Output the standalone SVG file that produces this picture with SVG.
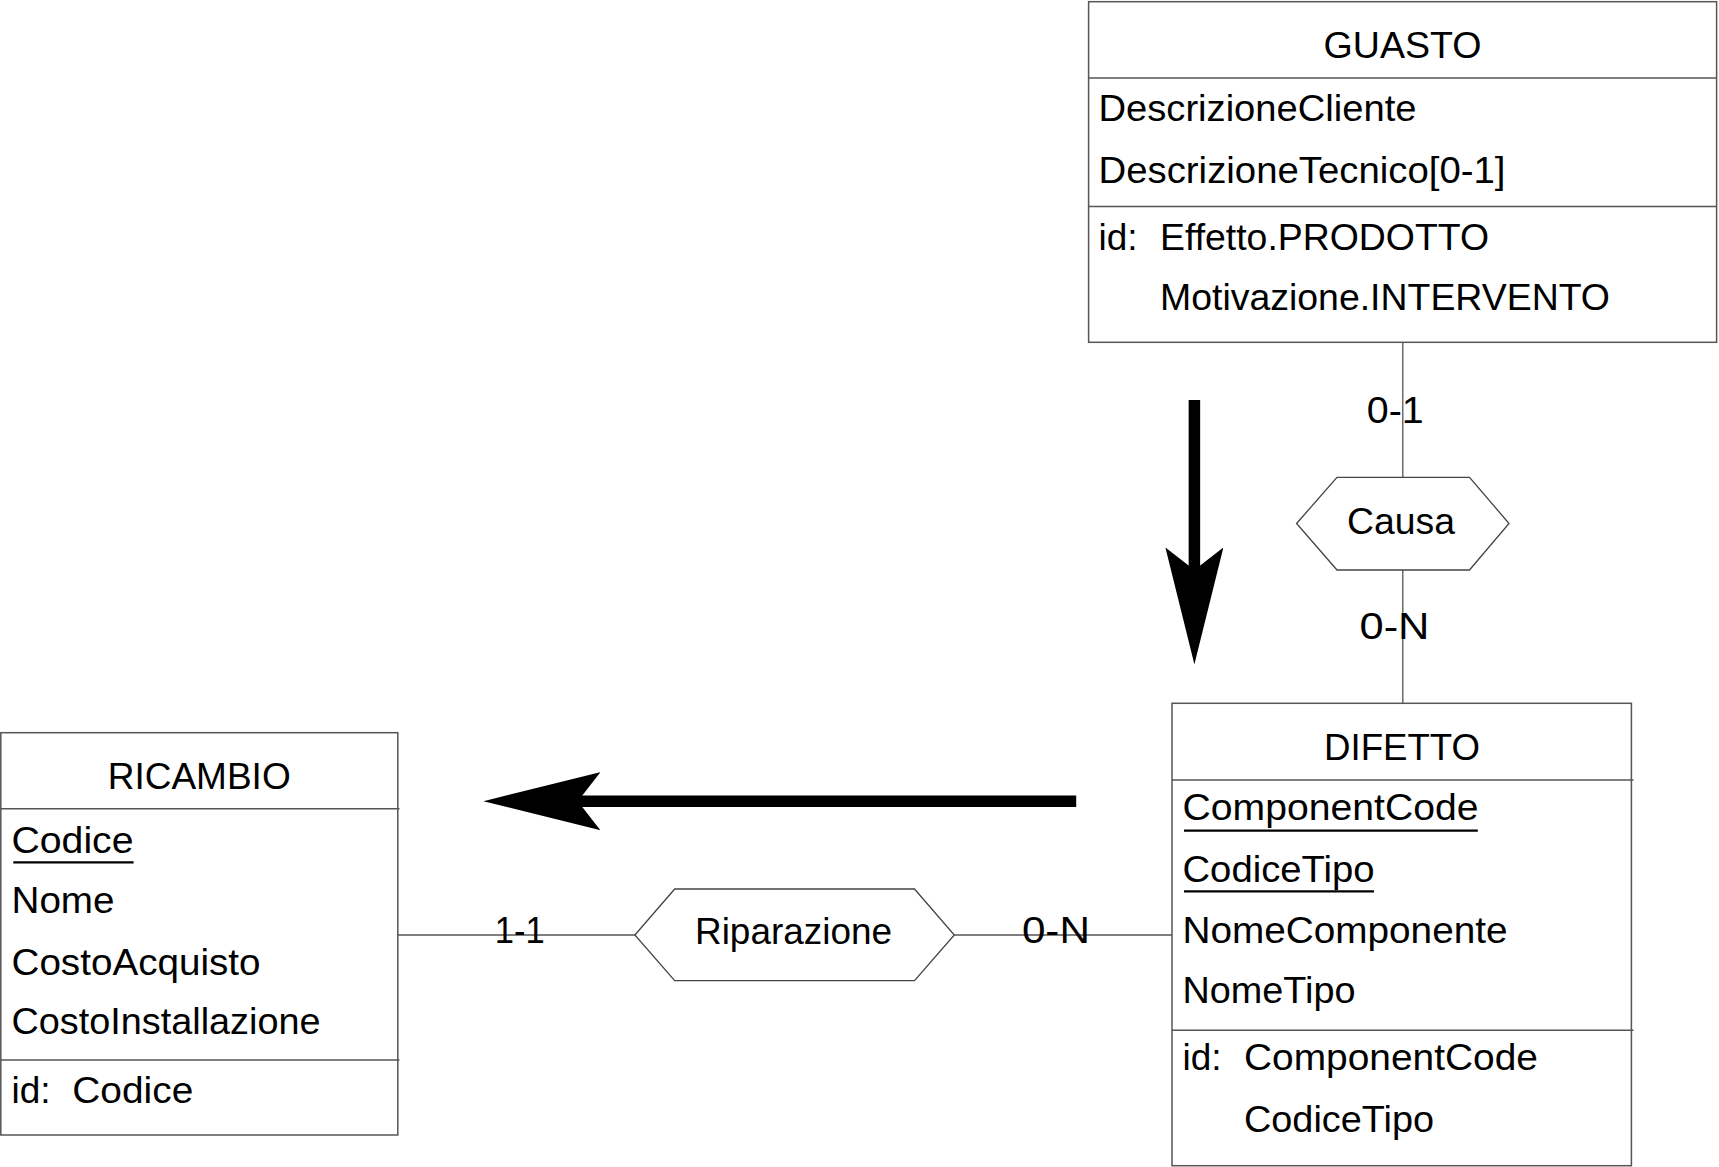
<svg xmlns="http://www.w3.org/2000/svg" width="1719" height="1167" viewBox="0 0 1719 1167">
<style>
.box{fill:#fff;stroke:#555;stroke-width:1.5}
.sep{stroke:#555;stroke-width:1.5;fill:none}
.rel{fill:#fff;stroke:#444;stroke-width:1.3}
.conn{stroke:#555;stroke-width:1.3;fill:none}
.ul{stroke:#000;stroke-width:2.2}
text{font-family:"Liberation Sans",Arial,sans-serif;font-size:37px;fill:#000}
.c{text-anchor:middle}
.big{stroke:#000;stroke-width:11.5;fill:none;marker-end:url(#head)}
</style>
<defs>
<marker id="head" markerUnits="userSpaceOnUse" markerWidth="117" markerHeight="58" viewBox="0 0 117 58" refX="22.6" refY="29" orient="auto">
<path d="M117,29 L0,0 L22.6,29 L0,58 Z" fill="#000"/>
</marker>
</defs>
<rect width="1719" height="1167" fill="#fff"/>

<g id="connectors">
<line class="conn" x1="1402.8" y1="342" x2="1402.8" y2="477.3"/>
<line class="conn" x1="1402.8" y1="570" x2="1402.8" y2="703.3"/>
<line class="conn" x1="397.7" y1="935" x2="634.9" y2="935"/>
<line class="conn" x1="954.3" y1="935" x2="1172" y2="935"/>
<text class="c" x="1395.3" y="423.3" textLength="57" lengthAdjust="spacingAndGlyphs">0-1</text>
<text class="c" x="1394.5" y="639.3" textLength="70" lengthAdjust="spacingAndGlyphs">0-N</text>
<text class="c" x="519.8" y="942.7" textLength="50" lengthAdjust="spacingAndGlyphs">1-1</text>
<text class="c" x="1055.9" y="942.7" textLength="68" lengthAdjust="spacingAndGlyphs">0-N</text>
</g>

<g id="arrows">
<path class="big" d="M1194.4,400 L1194.4,570"/>
<path class="big" d="M1076.2,801.2 L577.8,801.2"/>
</g>

<g id="guasto">
<rect class="box" x="1088.6" y="1.7" width="628" height="340.6"/>
<line class="sep" x1="1088.6" y1="78" x2="1716.6" y2="78"/>
<line class="sep" x1="1088.6" y1="206.5" x2="1716.6" y2="206.5"/>
<text class="c" x="1402.6" y="58.3" textLength="158" lengthAdjust="spacingAndGlyphs">GUASTO</text>
<text x="1098.5" y="120.7" textLength="318" lengthAdjust="spacingAndGlyphs">DescrizioneCliente</text>
<text x="1098.5" y="182.7" textLength="407" lengthAdjust="spacingAndGlyphs">DescrizioneTecnico[0-1]</text>
<text x="1098.5" y="250">id:</text>
<text x="1160" y="250" textLength="329" lengthAdjust="spacingAndGlyphs">Effetto.PRODOTTO</text>
<text x="1160" y="310" textLength="450" lengthAdjust="spacingAndGlyphs">Motivazione.INTERVENTO</text>
</g>

<g id="causa">
<polygon class="rel" points="1296.6,523.5 1337,477.3 1469.5,477.3 1509,523.5 1469.5,570 1337,570"/>
<text class="c" x="1401" y="534.3" textLength="108" lengthAdjust="spacingAndGlyphs">Causa</text>
</g>

<g id="difetto">
<rect class="box" x="1172" y="703.3" width="459.4" height="462.4"/>
<line class="sep" x1="1172" y1="780" x2="1633.5" y2="780"/>
<line class="sep" x1="1172" y1="1030.3" x2="1633.5" y2="1030.3"/>
<text class="c" x="1402" y="760" textLength="156" lengthAdjust="spacingAndGlyphs">DIFETTO</text>
<text x="1182.5" y="820" textLength="296" lengthAdjust="spacingAndGlyphs">ComponentCode</text>
<line class="ul" x1="1184" y1="830.7" x2="1477.8" y2="830.7"/>
<text x="1182.5" y="881.7" textLength="192" lengthAdjust="spacingAndGlyphs">CodiceTipo</text>
<line class="ul" x1="1184" y1="891.3" x2="1374" y2="891.3"/>
<text x="1182.5" y="943.3" textLength="325" lengthAdjust="spacingAndGlyphs">NomeComponente</text>
<text x="1182.5" y="1003.3" textLength="173" lengthAdjust="spacingAndGlyphs">NomeTipo</text>
<text x="1182.5" y="1070">id:</text>
<text x="1244" y="1070" textLength="294" lengthAdjust="spacingAndGlyphs">ComponentCode</text>
<text x="1244" y="1131.7" textLength="190" lengthAdjust="spacingAndGlyphs">CodiceTipo</text>
</g>

<g id="riparazione">
<polygon class="rel" points="634.9,935 674.7,889 914.5,889 954.3,935 914.5,980.7 674.7,980.7"/>
<text class="c" x="793.5" y="944" textLength="197" lengthAdjust="spacingAndGlyphs">Riparazione</text>
</g>

<g id="ricambio">
<rect class="box" x="0.8" y="732.7" width="397" height="402.3"/>
<line class="sep" x1="0.8" y1="808.7" x2="399.5" y2="808.7"/>
<line class="sep" x1="0.8" y1="1060" x2="399.5" y2="1060"/>
<text class="c" x="199.2" y="789.3" textLength="183" lengthAdjust="spacingAndGlyphs">RICAMBIO</text>
<text x="11.5" y="852.7" textLength="122" lengthAdjust="spacingAndGlyphs">Codice</text>
<line class="ul" x1="13.3" y1="862.3" x2="133.6" y2="862.3"/>
<text x="11.5" y="913.3" textLength="103" lengthAdjust="spacingAndGlyphs">Nome</text>
<text x="11.5" y="975" textLength="249" lengthAdjust="spacingAndGlyphs">CostoAcquisto</text>
<text x="11.5" y="1034.3" textLength="309" lengthAdjust="spacingAndGlyphs">CostoInstallazione</text>
<text x="11.5" y="1102.7">id:</text>
<text x="72.3" y="1102.7" textLength="121" lengthAdjust="spacingAndGlyphs">Codice</text>
</g>
</svg>
